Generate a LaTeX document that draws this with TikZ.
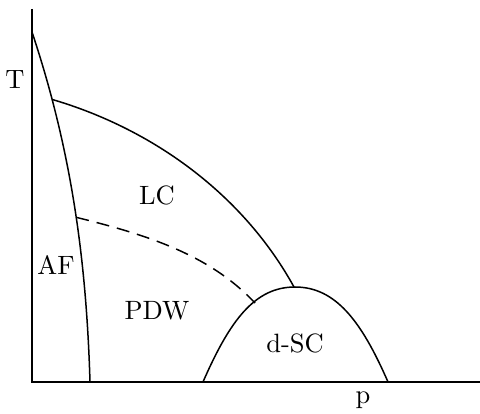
\documentclass[tikz,border=0pt]{standalone}
\begin{document}
\begin{tikzpicture}[x=1pt,y=-1pt,
  curve/.style={line width=1.5pt},
  axis/.style={line width=1.5pt},
  dashcurve/.style={line width=1.5pt,dash pattern=on 13pt off 8pt},
  lbl/.style={font=\fontsize{10}{12}\selectfont,inner sep=0pt,anchor=base,scale=2.65,transform shape}]
\useasboundingbox (0,0) rectangle (480,414);
% axes
\coordinate (O) at (32,382);
\coordinate (Ytop) at (32,9);
\coordinate (Xend) at (480,382);
\draw[axis] (Ytop) -- (O) -- (Xend);
% AF boundary
\coordinate (afTop) at (32,32);
\coordinate (afBot) at (90,382);
\draw[curve] (afTop) .. controls (72,152) and (86.4,262) .. (afBot)
  coordinate[pos=0.19] (lcStart) coordinate[pos=0.53] (dStart);
% LC boundary
\coordinate (lcEnd) at (294,287);
\draw[curve] (lcStart) .. controls (153,129) and (243,194.5) .. (lcEnd);
% dashed
\coordinate (dEnd) at (255,303);
\draw[dashcurve] (dStart) .. controls (148,235) and (210,255) .. (dEnd);
% d-SC dome
\coordinate (scL) at (203,382);
\coordinate (scTop) at (295,287);
\coordinate (scR) at (388,382);
\draw[curve] (scL) .. controls (230,320) and (255,287) .. (scTop)
  .. controls (335,287) and (361,320) .. (scR);
% labels
\node[lbl] (T) at (15,89) {T};
\node[lbl] (p) at (363,404) {p};
\node[lbl] (LC) at (157,205) {LC};
\node[lbl] (AF) at (56,275) {AF};
\node[lbl] (PDW) at (157,320) {PDW};
\node[lbl] (dSC) at (295,353) {d-SC};
\end{tikzpicture}
\end{document}
